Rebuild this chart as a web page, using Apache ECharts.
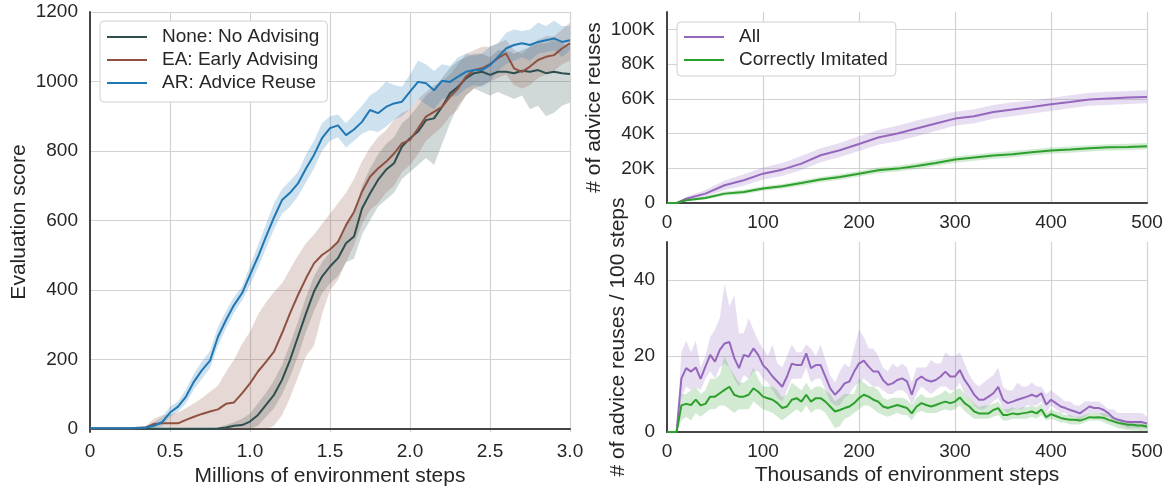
<!DOCTYPE html>
<html>
<head>
<meta charset="utf-8">
<script src="https://cdn.jsdelivr.net/npm/echarts@6/dist/echarts.min.js"></script>
<style>
  html, body { margin: 0; padding: 0; background: #fff; }
  #chart { width: 1169px; height: 493px; }
</style>
</head>
<body>
<div id="chart"></div>
<script>
// ---- left panel: evaluation score vs millions of steps ----
const evalSteps = [0, 0.05, 0.1, 0.15, 0.2, 0.25, 0.3, 0.35, 0.4, 0.45,
  0.5, 0.55, 0.6, 0.65, 0.7, 0.75, 0.8, 0.85, 0.9, 0.95,
  1.0, 1.05, 1.1, 1.15, 1.2, 1.25, 1.3, 1.35, 1.4, 1.45,
  1.5, 1.55, 1.6, 1.65, 1.7, 1.75, 1.8, 1.85, 1.9, 1.95,
  2.0, 2.05, 2.1, 2.15, 2.2, 2.25, 2.3, 2.35, 2.4, 2.45,
  2.5, 2.55, 2.6, 2.65, 2.7, 2.75, 2.8, 2.85, 2.9, 2.95, 3.0];

const noneMean = [1, 1, 1, 1, 1, 1, 1, 1, 1, 1, 1, 1, 1, 1, 1, 1, 2, 5, 10, 12,
  22, 41, 70, 99, 142, 199, 266, 333, 396, 439, 468, 492, 535, 554, 635, 678, 717, 746, 765, 813,
  837, 856, 889, 894, 927, 966, 985, 1009, 1024, 1028, 1019, 1028, 1028, 1024, 1031, 1028, 1033, 1024, 1028, 1024, 1022];
const noneLo = [0, 0, 0, 0, 0, 0, 0, 0, 0, 0, 0, 0, 0, 0, 0, 0, 0, 0, 0, 0,
  0, 10, 35, 60, 100, 150, 210, 280, 340, 390, 420, 440, 480, 490, 560, 600, 640, 660, 680, 720,
  740, 760, 780, 760, 820, 880, 930, 960, 980, 970, 960, 970, 960, 950, 960, 920, 930, 900, 910, 930, 940];
const noneHi = [3, 3, 3, 3, 3, 3, 3, 3, 3, 3, 3, 3, 3, 3, 3, 3, 5, 12, 20, 30,
  45, 75, 105, 140, 185, 245, 310, 380, 440, 480, 510, 540, 590, 620, 700, 750, 790, 820, 840, 880,
  900, 930, 960, 980, 1010, 1040, 1060, 1070, 1080, 1080, 1070, 1090, 1090, 1080, 1090, 1100, 1110, 1110, 1120, 1110, 1100];

const eaMean = [2, 2, 2, 2, 2, 2, 3, 5, 15, 17, 17, 17, 27, 36, 44, 51, 57, 73, 77, 103,
  132, 166, 194, 223, 276, 333, 386, 434, 477, 501, 517, 539, 587, 625, 683, 726, 750, 769, 793, 822,
  832, 865, 899, 913, 927, 956, 980, 1014, 1033, 1038, 1050, 1067, 1081, 1038, 1028, 1043, 1062, 1071, 1076, 1095, 1110];
const eaLo = [0, 0, 0, 0, 0, 0, 0, 0, 0, 0, 0, 0, 0, 0, 0, 0, 0, 0, 0, 0,
  0, 0, 0, 10, 40, 90, 150, 210, 240, 330, 400, 430, 480, 530, 590, 630, 650, 680, 700, 740,
  760, 790, 830, 850, 870, 900, 920, 960, 980, 990, 1000, 1010, 1020, 990, 980, 990, 1010, 1020, 1030, 1050, 1060];
const eaHi = [5, 5, 5, 5, 5, 5, 6, 10, 30, 40, 42, 48, 60, 75, 90, 108, 125, 165, 200, 245,
  280, 330, 365, 395, 420, 460, 500, 535, 560, 590, 620, 650, 680, 720, 770, 810, 840, 860, 890, 910,
  920, 950, 970, 990, 1000, 1020, 1050, 1080, 1090, 1100, 1100, 1110, 1120, 1090, 1080, 1100, 1120, 1130, 1130, 1150, 1170];

const arMean = [3, 3, 3, 3, 3, 3, 4, 5, 10, 20, 48, 65, 94, 137, 170, 197, 266, 314, 357, 391,
  444, 496, 554, 609, 659, 680, 707, 750, 789, 837, 866, 874, 846, 862, 884, 918, 909, 927, 937, 942,
  971, 999, 995, 975, 1002, 999, 1014, 1028, 1033, 1033, 1047, 1071, 1095, 1105, 1110, 1105, 1114, 1119, 1124, 1114, 1119];
const arLo = [0, 0, 0, 0, 0, 0, 1, 2, 2, 8, 35, 50, 75, 115, 145, 175, 240, 290, 335, 370,
  415, 465, 520, 575, 620, 640, 670, 710, 750, 800, 830, 840, 810, 830, 850, 860, 855, 870, 890, 900,
  920, 950, 935, 920, 950, 955, 960, 980, 990, 985, 1000, 1030, 1050, 1060, 1070, 1060, 1080, 1085, 1090, 1070, 1090];
const arHi = [5, 5, 5, 5, 5, 5, 7, 8, 20, 35, 65, 80, 115, 160, 195, 225, 295, 340, 380, 410,
  470, 530, 590, 650, 690, 715, 740, 790, 830, 880, 900, 905, 880, 905, 930, 960, 975, 1000, 990, 985,
  1020, 1060, 1050, 1030, 1050, 1045, 1070, 1080, 1075, 1080, 1100, 1110, 1140, 1150, 1145, 1150, 1170, 1160, 1175, 1160, 1160];

// ---- top right: cumulative advice reuses (K) vs thousands of steps ----
const cumSteps = [0, 10, 20, 40, 60, 80, 100, 120, 140, 160, 180, 200, 220, 240,
  260, 280, 300, 320, 340, 360, 380, 400, 420, 440, 460, 480, 500];
const cumAll = [0, 0, 2.5, 5.4, 10.2, 13.1, 16.9, 19.2, 22.7, 27.5, 30.4, 34, 37.7, 40,
  42.9, 45.8, 48.6, 50, 52.4, 53.8, 55.3, 56.9, 58.2, 59.6, 60.2, 60.7, 61.1];
const cumAllLo = [0, 0, 1.5, 3.5, 7.5, 10, 13.5, 15.5, 19, 23.5, 26.5, 30, 33.5, 35.5,
  38.5, 41.5, 44.5, 46, 48.5, 50, 51.5, 53, 54.5, 56, 56.5, 57, 57.5];
const cumAllHi = [0, 0, 3.5, 7.5, 13, 16.5, 20.5, 23, 27, 31.5, 34.5, 38.5, 42, 44.5,
  47.5, 50, 52.5, 54, 56.5, 58, 59, 60.5, 62, 63.5, 64, 64.5, 65];
const cumCorr = [0, 0, 1.6, 2.9, 5.4, 6.3, 8.3, 9.6, 11.5, 13.5, 15, 16.9, 18.8, 19.8,
  21.3, 23.1, 25, 26.2, 27.3, 28.1, 29.2, 30.2, 30.8, 31.5, 32.1, 32.3, 32.7];
const cumCorrLo = [0, 0, 1, 2, 4.2, 5, 7, 8.2, 10, 12, 13.4, 15.3, 17.1, 18.1,
  19.6, 21.3, 23.2, 24.4, 25.5, 26.3, 27.4, 28.4, 29, 29.7, 30.3, 30.5, 30.9];
const cumCorrHi = [0, 0, 2.2, 3.8, 6.6, 7.6, 9.6, 11, 13, 15, 16.6, 18.5, 20.5, 21.5,
  23, 24.9, 26.8, 28, 29.1, 29.9, 31, 32, 32.6, 33.3, 33.9, 34.1, 34.5];

// ---- bottom right: advice reuses per 100 steps ----
const rateSteps = [0, 5, 10, 15, 20, 25, 30, 35, 40, 45, 50, 55, 60, 65, 70, 75, 80, 85, 90, 95,
  100, 105, 110, 115, 120, 125, 130, 135, 140, 145, 150, 155, 160, 165, 170, 175, 180, 185, 190, 195,
  200, 205, 210, 215, 220, 225, 230, 235, 240, 245, 250, 255, 260, 265, 270, 275, 280, 285, 290, 295,
  300, 305, 310, 315, 320, 325, 330, 335, 340, 345, 350, 355, 360, 365, 370, 375, 380, 385, 390, 395,
  400, 405, 410, 415, 420, 425, 430, 435, 440, 445, 450, 455, 460, 465, 470, 475, 480, 485, 490, 495, 500];
const rateAll = [0, 0, 0, 14.1, 16.8, 15.9, 17, 14, 17.2, 20.3, 18.5, 21.6, 23.3, 23.7, 19.5, 16.8, 20.3, 19.8, 22, 20.3,
  17.6, 16.3, 14.6, 13.3, 11.9, 14.6, 18, 17.6, 17.6, 20.7, 16.8, 17.6, 17.6, 14.6, 11.5, 9.8, 11.1, 12.8, 13.3, 15.9,
  18, 18.8, 17.2, 15.9, 15.9, 13.7, 12.4, 12.8, 13.7, 14.1, 13.3, 9.8, 13.7, 14.6, 13.7, 13.3, 13.7, 14.6, 15.9, 14.6,
  14.6, 16.3, 13.7, 11.9, 9.8, 8.5, 8.5, 9.3, 10.2, 11.9, 8.5, 7.6, 8, 8.5, 8.9, 9.3, 9.8, 9.3, 10.2, 7.2,
  8.5, 7.6, 6.7, 6.3, 5.8, 5.4, 4.9, 5.8, 6.7, 6.3, 6.3, 5.8, 4.9, 3.7, 3.2, 2.9, 2.6, 2.6, 2.6, 2.6, 2.2];
const rateAllLo = [0, 0, 0, 9, 12, 11, 12, 11, 14, 16, 14, 17, 18, 17, 14, 12, 15, 14, 16, 16,
  14, 13, 11, 9, 8, 11, 14, 14, 14, 17, 13, 14, 14, 11, 8, 7, 7, 9, 10, 12,
  13, 14, 13, 12, 12, 11, 10, 10, 11, 11, 10, 7, 10, 12, 11, 10, 11, 12, 12, 11,
  11, 13, 10, 9, 7, 6, 6, 7, 8, 9, 6, 5, 6, 6, 6, 7, 7, 7, 8, 5,
  7, 6, 5, 5, 4, 4, 3, 4, 5, 5, 5, 4, 4, 2.5, 2, 1.5, 1, 1, 1, 1, 1];
const rateAllHi = [0, 0, 0, 21, 24, 21, 24, 17, 20, 25, 27, 30, 39, 33, 36, 26, 26, 30, 27, 24,
  22, 20, 23, 18, 17, 20, 23, 21, 21, 23, 22, 20, 23, 19, 15, 13, 16, 18, 17, 22,
  27, 25, 22, 22, 20, 17, 16, 18, 17, 18, 17, 13, 17, 17, 17, 19, 18, 18, 21, 20,
  20, 21, 18, 15, 13, 12, 13, 14, 15, 17, 12, 11, 11, 13, 12, 12, 13, 12, 12, 10,
  11, 10, 9, 8, 8, 7, 7, 8, 8, 8, 8, 7, 6, 6, 5, 5, 5, 5, 5, 5, 4];
const rateCorr = [0, 0, 0, 7, 7.4, 7.1, 8.5, 7, 7.4, 9.3, 9.3, 10.2, 11.1, 11.9, 9.8, 9.3, 9.3, 9.8, 11.5, 10.6,
  9.3, 8.9, 8.5, 7.6, 6.3, 6.7, 8.5, 8.9, 8, 9.8, 8, 8.9, 8.9, 8, 6.7, 5.4, 5.8, 6.3, 6.7, 7.6,
  8.9, 9.8, 9.3, 8.5, 8, 6.7, 6.3, 6.7, 7.1, 6.7, 6.3, 4.9, 6.7, 7.6, 7.1, 6.7, 7.1, 7.6, 8, 7.6,
  8, 9.1, 7.6, 6.7, 5.4, 4.9, 4.9, 4.9, 5.8, 6.3, 4.5, 4.5, 4.9, 4.7, 4.9, 5.1, 5.4, 4.9, 5.9, 3.9,
  4.7, 4.2, 3.7, 3.4, 3.2, 3.2, 3, 3.4, 3.9, 3.8, 3.9, 3.7, 3.2, 2.8, 2.4, 2.2, 1.9, 1.9, 1.7, 1.7, 1.4];
const rateCorrLo = [0, 0, 0, 3, 4, 3, 5, 4, 5, 6, 6, 7, 7, 6, 5, 6, 6, 6, 8, 7,
  6, 5.5, 5, 4, 3, 4, 5, 6, 5, 7, 5, 6, 6, 5, 3, 1, 1.5, 3.5, 4, 5,
  6, 7, 7, 6, 5, 4.5, 4, 4.5, 5, 4.5, 4.5, 3, 5, 5.5, 5, 5, 5, 5.5, 6, 5.5,
  6, 7, 5.5, 4.5, 3.5, 3.5, 3.5, 3.5, 4, 4.5, 3, 3, 3.5, 3.5, 3.5, 3.5, 4, 3.5, 4.5, 3,
  3.5, 3, 2.5, 2.5, 2, 2, 2, 2.5, 3, 3, 3, 2.5, 2, 1.5, 1, 0.8, 0.5, 0.4, 0.3, 0.2, 0];
const rateCorrHi = [0, 0, 0, 10, 10, 11, 12, 10, 11, 14, 14, 15, 20, 17, 15, 13, 13, 14, 17, 14,
  12, 12, 12, 11, 9, 10, 13, 12, 11, 13, 11, 12, 12, 11, 10, 8, 9, 10, 10, 10,
  14, 13, 12, 12, 11, 9, 8.5, 9, 9, 9, 8.5, 7, 9, 10, 9, 9, 9.5, 10, 11, 10,
  11, 11.5, 10, 9, 7.5, 6.5, 7, 7, 7.5, 8, 6, 6, 6.5, 6, 6.5, 6.5, 7, 6.5, 7.5, 5,
  6, 5.5, 5, 4.5, 4.5, 4, 4, 4.5, 5, 5, 5, 5, 4.5, 4, 3.5, 3, 3, 2.8, 2.6, 2.5, 2.2];

const FONT = "'Liberation Sans', Arial, Helvetica, sans-serif";
const TXT = '#262626';
const SPINE = '#444444';
const GRID = '#d2d2d2';

const C_NONE = '#2f4f4f', C_EA = '#8f5142', C_AR = '#1f77b4';
const C_ALL = '#9467bd', C_CORR = '#2ca02c';

// shaded spread: one polygon through the upper edge and back along the lower edge
function band(xs, lo, hi, color, gi) {
  return {
    type: 'custom', xAxisIndex: gi, yAxisIndex: gi, silent: true, clip: true,
    data: xs.map((x, i) => [x, lo[i], hi[i]]),
    encode: { x: 0, y: [1, 2] },
    renderItem: function (params, api) {
      if (params.dataIndex !== 0) return null;
      const pts = [];
      for (let i = 0; i < xs.length; i++) pts.push(api.coord([xs[i], hi[i]]));
      for (let i = xs.length - 1; i >= 0; i--) pts.push(api.coord([xs[i], lo[i]]));
      return { type: 'polygon', shape: { points: pts },
        style: { fill: color, opacity: 0.22 } };
    }
  };
}
function line(name, xs, ys, color, gi) {
  return { type: 'line', name: name, xAxisIndex: gi, yAxisIndex: gi,
    data: xs.map((x, i) => [x, ys[i]]), symbol: 'none', showSymbol: false,
    lineStyle: { color: color, width: 2 }, itemStyle: { color: color } };
}

const labelStyle = { color: TXT, fontSize: 19, fontFamily: FONT };
const nameStyle = { color: TXT, fontSize: 21, fontFamily: FONT };

function xAxis(gi, max, interval, fmt, name) {
  return {
    type: 'value', gridIndex: gi, min: 0, max: max, interval: interval,
    name: name, nameLocation: 'middle', nameGap: 33, nameTextStyle: nameStyle,
    axisLine: { show: true, lineStyle: { color: SPINE, width: 2 } },
    axisTick: { show: false },
    axisLabel: Object.assign({ margin: 10, formatter: fmt }, labelStyle),
    splitLine: { show: true, lineStyle: { color: GRID, width: 1.2 } }
  };
}
function yAxis(gi, min, max, ticks, fmt, name, gap) {
  return {
    type: 'value', gridIndex: gi, min: min, max: max,
    name: name, nameLocation: 'middle', nameGap: gap, nameTextStyle: nameStyle,
    axisLine: { show: true, lineStyle: { color: SPINE, width: 2 } },
    axisTick: { show: false, customValues: ticks },
    axisLabel: Object.assign({ margin: 12, formatter: fmt, customValues: ticks }, labelStyle),
    splitLine: { show: true, lineStyle: { color: GRID, width: 1.2 } }
  };
}

const legendBase = {
  orient: 'vertical', icon: 'rect', itemWidth: 40, itemHeight: 2, itemGap: 1,
  backgroundColor: '#ffffff', borderColor: '#d0d0d0', borderWidth: 1, borderRadius: 4,
  textStyle: { color: TXT, fontSize: 19, fontFamily: FONT, lineHeight: 22, padding: [0, 0, 0, 10] }
};

const series = [
  band(evalSteps, noneLo, noneHi, C_NONE, 0),
  band(evalSteps, eaLo, eaHi, C_EA, 0),
  band(evalSteps, arLo, arHi, C_AR, 0),
  line('None: No Advising', evalSteps, noneMean, C_NONE, 0),
  line('EA: Early Advising', evalSteps, eaMean, C_EA, 0),
  line('AR: Advice Reuse', evalSteps, arMean, C_AR, 0),
  band(cumSteps, cumAllLo, cumAllHi, C_ALL, 1),
  band(cumSteps, cumCorrLo, cumCorrHi, C_CORR, 1),
  line('All', cumSteps, cumAll, C_ALL, 1),
  line('Correctly Imitated', cumSteps, cumCorr, C_CORR, 1),
  band(rateSteps, rateAllLo, rateAllHi, C_ALL, 2),
  band(rateSteps, rateCorrLo, rateCorrHi, C_CORR, 2),
  line('All ', rateSteps, rateAll, C_ALL, 2),
  line('Correctly Imitated ', rateSteps, rateCorr, C_CORR, 2)
];

const chart = echarts.init(document.getElementById('chart'), null, { renderer: 'canvas' });
chart.setOption({
  backgroundColor: '#ffffff',
  animation: false,
  textStyle: { fontFamily: FONT },
  grid: [
    { left: 90, right: 599, top: 12, bottom: 61 },
    { left: 667, right: 22, top: 12, bottom: 290 },
    { left: 667, right: 22, top: 242, bottom: 61 }
  ],
  xAxis: [
    xAxis(0, 3, 0.5, v => v === 0 ? '0' : v.toFixed(1), 'Millions of environment steps'),
    xAxis(1, 500, 100, v => String(v), ''),
    xAxis(2, 500, 100, v => String(v), 'Thousands of environment steps')
  ],
  yAxis: [
    yAxis(0, -8, 1200, [0, 200, 400, 600, 800, 1000, 1200], v => String(v), 'Evaluation score', 60),
    yAxis(1, 0, 110, [0, 20, 40, 60, 80, 100], v => v === 0 ? '0' : v + 'K', '# of advice reuses', 62),
    yAxis(2, 0, 50, [0, 20, 40], v => String(v), '# of advice reuses / 100 steps', 38)
  ],
  legend: [
    Object.assign({ left: 100, top: 21, padding: [5, 8, 8, 7],
      data: ['None: No Advising', 'EA: Early Advising', 'AR: Advice Reuse'] }, legendBase),
    Object.assign({ left: 677, top: 22, padding: [4, 8, 5, 7],
      data: ['All', 'Correctly Imitated'] }, legendBase)
  ],
  series: series
});
</script>
</body>
</html>
